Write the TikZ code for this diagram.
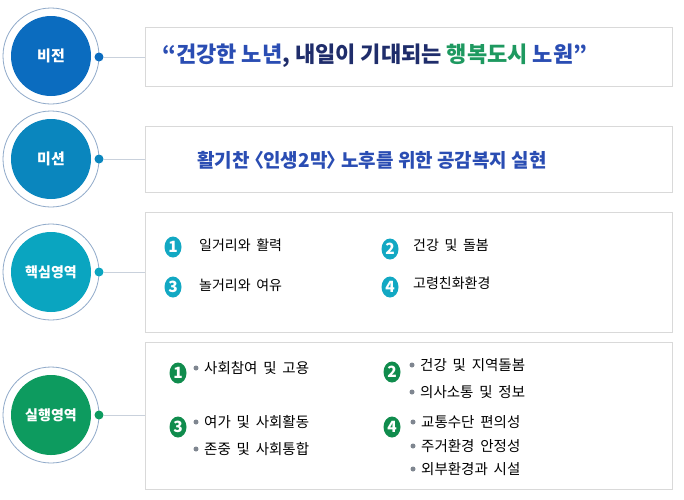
\documentclass[tikz,border=0pt]{standalone}
\usepackage{fontspec}
\newfontfamily\kr{Noto Sans CJK KR}
\newfontfamily\krp[RawFeature=+palt]{Noto Sans CJK KR}
\usetikzlibrary{shapes.geometric}
\newcommand\itemfontA{\kr\fontsize{14}{14}\selectfont\spaceskip 0.4em\relax}
\newcommand\itemfontB{\kr\fontsize{14.5}{14.5}\selectfont\spaceskip 0.4em\relax}
\definecolor{cvis}{HTML}{0B6CBF}
\definecolor{cmis}{HTML}{0A86BE}
\definecolor{ccore}{HTML}{0AA5C0}
\definecolor{cexe}{HTML}{0D9B5F}
\definecolor{ringc}{HTML}{8FA9C9}
\definecolor{boxc}{HTML}{D9D9D9}
\definecolor{linec}{HTML}{C9D1DC}
\definecolor{tblue}{HTML}{2A4DB3}
\definecolor{tnavy}{HTML}{1F2D6B}
\definecolor{tgreen}{HTML}{1E9960}
\definecolor{numteal}{HTML}{12A8C3}
\definecolor{numgreen}{HTML}{108C4D}
\definecolor{bulc}{HTML}{7F8690}
\begin{document}
\begin{tikzpicture}[x=1pt,y=-1pt,
  ring/.style={circle, draw=ringc, line width=0.8pt, fill=white, minimum size=96pt, inner sep=0pt},
  disc/.style={circle, fill=#1, minimum size=80pt, inner sep=0pt, text=white, font=\kr\bfseries\fontsize{15}{15}\selectfont},
  dotn/.style={circle, fill=#1, minimum size=9pt, inner sep=0pt},
  panel/.style={draw=boxc, fill=white, line width=0.9pt, inner sep=0pt, anchor=north west},
  conn/.style={draw=linec, line width=0.8pt},
  numc/.style={ellipse, fill=#1, text=white, minimum width=17pt, minimum height=21pt, inner sep=0pt, font=\kr\bfseries\fontsize{15.5}{15.5}\selectfont},
  item/.style={anchor=west, inner sep=0pt, text=black, font=\itemfontA},
  xitem/.style={anchor=west, inner sep=0pt, text=black, font=\itemfontB},
  bul/.style={circle, fill=bulc, minimum size=5pt, inner sep=0pt}
]
\useasboundingbox (0,0) rectangle (684,499);
\fill[white] (0,0) rectangle (684,499);

% panels
\node[panel, minimum width=527pt, minimum height=59pt] (vb) at (145,27) {};
\node[panel, minimum width=527pt, minimum height=66pt] (mb) at (145,126) {};
\node[panel, minimum width=527pt, minimum height=120pt] (cb) at (145,212) {};
\node[panel, minimum width=527pt, minimum height=147pt] (eb) at (145,342) {};

% circles
\node[ring] (vr) at (51,56) {};
\node[disc=cvis] (v) at (51,56) {비전};
\node[ring] (mr) at (51,159) {};
\node[disc=cmis] (m) at (51,159) {미션};
\node[ring] (cr) at (51,272) {};
\node[disc=ccore, font=\kr\bfseries\fontsize{14}{14}\selectfont] (c) at (51,272) {핵심영역};
\node[ring] (er) at (51,415) {};
\node[disc=cexe, font=\kr\bfseries\fontsize{14}{14}\selectfont] (e) at (51,415) {실행영역};

% dots
\node[dotn=cvis] (vd) at (99,57) {};
\node[dotn=cmis] (md) at (99,159) {};
\node[dotn=ccore] (cd) at (99,272) {};
\node[dotn=cexe] (ed) at (99,415) {};

% connectors
\draw[conn] (vd.east) -- (vd.east -| vb.west);
\draw[conn] (md.east) -- (md.east -| mb.west);
\draw[conn] (cd.east) -- (cd.east -| cb.west);
\draw[conn] (ed.east) -- (ed.east -| eb.west);

% vision text
\node[anchor=west, inner sep=0pt, font=\kr\bfseries\fontsize{22}{22}\selectfont] (vt) at (162,56)
  {\textcolor{tblue}{“건강한 노년}\textcolor{tnavy}{, 내일이 기대되는 }\textcolor{tgreen}{행복도시 }\textcolor{tblue}{노원”}};

% mission text
\node[anchor=west, inner sep=0pt, text=tblue, font=\kr\bfseries\fontsize{19}{19}\selectfont] (mt) at (197,160)
  {활기찬 {\krp〈}인생2막{\krp〉} 노후를 위한 공감복지 실현};

% core items
\node[numc=numteal] (c1) at (173,247) {1};
\node[item] (c1t) at (199,245) {일거리와 활력};
\node[numc=numteal] (c2) at (390,249) {2};
\node[item] (c2t) at (413,245) {건강 및 돌봄};
\node[numc=numteal] (c3) at (173,287) {3};
\node[item] (c3t) at (199,285) {놀거리와 여유};
\node[numc=numteal] (c4) at (390,287) {4};
\node[item] (c4t) at (413,283) {고령친화환경};

% execution items
\node[numc=numgreen] (e1) at (178,373) {1};
\node[bul] (e1a) at (196,368) {};
\node[xitem] (e1at) at (204,368) {사회참여 및 고용};

\node[numc=numgreen] (e2) at (392,372) {2};
\node[bul] (e2a) at (412,365) {};
\node[xitem] (e2at) at (420,365) {건강 및 지역돌봄};
\node[bul] (e2b) at (412,392) {};
\node[xitem] (e2bt) at (420,392) {의사소통 및 정보};

\node[numc=numgreen] (e3) at (178,427) {3};
\node[bul] (e3a) at (196,422) {};
\node[xitem] (e3at) at (204,422) {여가 및 사회활동};
\node[bul] (e3b) at (196,449) {};
\node[xitem] (e3bt) at (204,449) {존중 및 사회통합};

\node[numc=numgreen] (e4) at (392,427) {4};
\node[bul] (e4a) at (413,422) {};
\node[xitem] (e4at) at (421,422) {교통수단 편의성};
\node[bul] (e4b) at (413,446) {};
\node[xitem] (e4bt) at (421,446) {주거환경 안정성};
\node[bul] (e4c) at (413,469) {};
\node[xitem] (e4ct) at (421,469) {외부환경과 시설};
\end{tikzpicture}
\end{document}
